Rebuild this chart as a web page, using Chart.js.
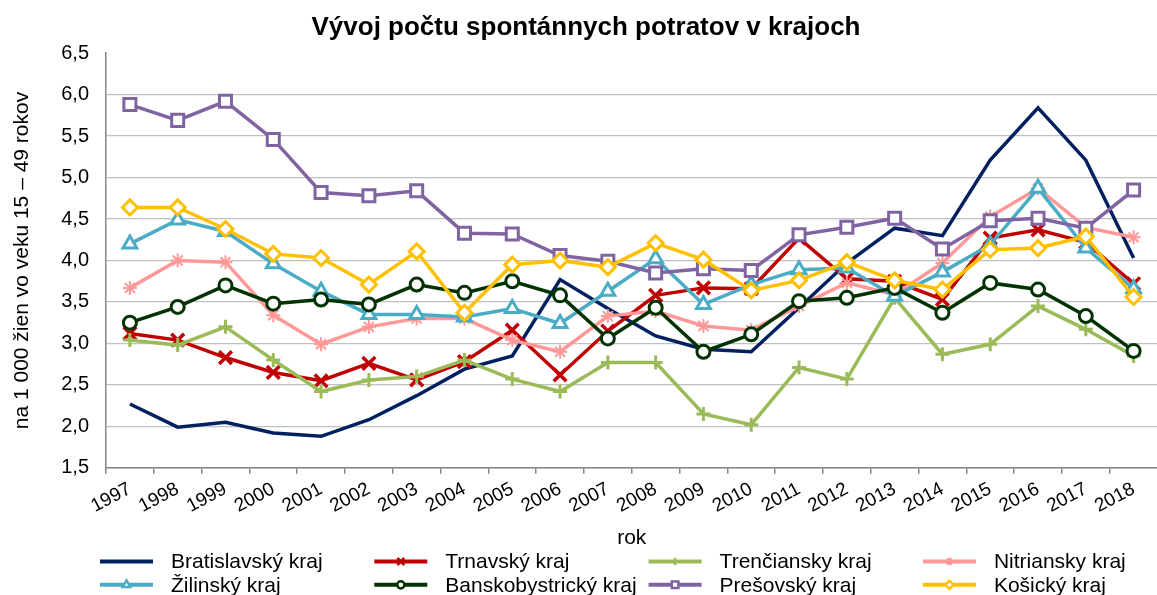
<!DOCTYPE html>
<html>
<head>
<meta charset="utf-8">
<script src="https://cdn.jsdelivr.net/npm/chart.js@4/dist/chart.umd.min.js"></script>
<style>
  html, body { margin: 0; padding: 0; background: #fff; overflow: hidden; }
  #wrap { width: 1170px; height: 595px; }
</style>
</head>
<body>
<div id="wrap"><canvas id="chart" width="1170" height="595"></canvas></div>
<script>
// data
const years = ['1997', '1998', '1999', '2000', '2001', '2002', '2003', '2004', '2005', '2006', '2007',
  '2008', '2009', '2010', '2011', '2012', '2013', '2014', '2015', '2016', '2017', '2018'];

const bratislava = [2.27, 1.99, 2.05, 1.92, 1.88, 2.08, 2.37, 2.69, 2.85, 3.77, 3.42, 3.09, 2.93, 2.90, 3.43, 3.97, 4.39, 4.30, 5.21, 5.84, 5.21, 4.03];
const trnava = [3.12, 3.04, 2.83, 2.65, 2.55, 2.76, 2.56, 2.78, 3.16, 2.62, 3.15, 3.58, 3.67, 3.66, 4.27, 3.78, 3.75, 3.53, 4.27, 4.37, 4.22, 3.72];
const trencin = [3.04, 2.98, 3.20, 2.80, 2.42, 2.56, 2.60, 2.80, 2.57, 2.42, 2.77, 2.77, 2.15, 2.02, 2.71, 2.57, 3.55, 2.87, 2.99, 3.45, 3.17, 2.85];
const nitra = [3.67, 4.00, 3.98, 3.34, 2.99, 3.20, 3.30, 3.30, 3.04, 2.90, 3.33, 3.39, 3.21, 3.16, 3.45, 3.73, 3.59, 3.97, 4.53, 4.87, 4.40, 4.28];
const zilina = [4.20, 4.49, 4.35, 3.96, 3.63, 3.35, 3.35, 3.32, 3.42, 3.24, 3.63, 4.02, 3.47, 3.71, 3.89, 3.91, 3.57, 3.86, 4.19, 4.87, 4.15, 3.66];
const banskaBystrica = [3.25, 3.44, 3.70, 3.48, 3.53, 3.47, 3.71, 3.61, 3.75, 3.58, 3.06, 3.43, 2.90, 3.11, 3.51, 3.55, 3.67, 3.37, 3.73, 3.65, 3.33, 2.91];
const presov = [5.88, 5.69, 5.92, 5.46, 4.82, 4.78, 4.84, 4.33, 4.32, 4.06, 3.99, 3.85, 3.90, 3.88, 4.31, 4.40, 4.51, 4.14, 4.48, 4.51, 4.39, 4.85];
const kosice = [4.64, 4.64, 4.38, 4.08, 4.03, 3.71, 4.11, 3.37, 3.95, 4.00, 3.92, 4.21, 4.01, 3.64, 3.76, 3.98, 3.76, 3.65, 4.13, 4.15, 4.29, 3.56];

const regionNames = ['Bratislavský kraj', 'Trnavský kraj', 'Trenčiansky kraj', 'Nitriansky kraj',
  'Žilinský kraj', 'Banskobystrický kraj', 'Prešovský kraj', 'Košický kraj'];
const regionValues = [bratislava, trnava, trencin, nitra, zilina, banskaBystrica, presov, kosice];
const colors = ['#002060', '#C00000', '#9BBB59', '#FF9999', '#4BACC6', '#003300', '#8064A2', '#FFC000'];
const markers = [false, 'crossRot', 'cross', 'star', 'triangle', 'circle', 'rect', 'rectRot'];
const markerSize = [0, 9, 7, 7, 8, 6.5, 8.5, 7.5];
const markerBorder = [0, 3.5, 3, 2, 3, 3, 3, 3];

const yTicks = [1.5, 2.0, 2.5, 3.0, 3.5, 4.0, 4.5, 5.0, 5.5, 6.0, 6.5];

Chart.defaults.font.family = '"Liberation Sans", Arial, sans-serif';
Chart.defaults.color = '#000';

const datasets = regionNames.map((name, i) => ({
  label: name,
  data: regionValues[i],
  borderColor: colors[i],
  backgroundColor: colors[i],
  borderWidth: 3.5,
  tension: 0,
  pointStyle: markers[i],
  pointRadius: markerSize[i],
  pointHoverRadius: markerSize[i],
  pointBorderWidth: markerBorder[i],
  pointBackgroundColor: '#fff',
  pointBorderColor: colors[i],
  order: regionNames.length - i // later series on top, like the original
}));

// legend laid out in a 4 column grid under the chart
const gridLegend = {
  id: 'gridLegend',
  afterDraw(chart) {
    const ctx = chart.ctx;
    ctx.save();
    chart.data.datasets.forEach((ds, i) => {
      const col = i % 4;
      const row = Math.floor(i / 4);
      const x = 100 + col * 274.3;
      const y = chart.height - 33.5 + row * 23.3;
      ctx.strokeStyle = ds.borderColor;
      ctx.lineWidth = 4;
      ctx.beginPath();
      ctx.moveTo(x, y);
      ctx.lineTo(x + 53, y);
      ctx.stroke();
      if (ds.pointStyle && Chart.helpers && Chart.helpers.drawPoint) {
        ctx.fillStyle = '#fff';
        ctx.lineWidth = 2.5;
        Chart.helpers.drawPoint(ctx, {
          pointStyle: ds.pointStyle,
          radius: ds.pointRadius * 0.55,
          borderWidth: 2.5,
          rotation: 0
        }, x + 26.5, y);
      }
      ctx.fillStyle = '#000';
      ctx.font = '21px "Liberation Sans", Arial, sans-serif';
      ctx.textBaseline = 'middle';
      ctx.textAlign = 'left';
      ctx.fillText(ds.label, x + 71, y + 1);
    });
    ctx.restore();
  }
};

new Chart(document.getElementById('chart'), {
  type: 'line',
  data: { labels: years, datasets: datasets },
  plugins: [gridLegend],
  options: {
    responsive: false,
    animation: false,
    layout: { padding: { left: 10, right: 8, top: 0, bottom: 44 } },
    plugins: {
      legend: { display: false },
      tooltip: { enabled: false },
      title: {
        display: true,
        text: 'Vývoj počtu spontánnych potratov v krajoch',
        font: { size: 26, weight: 'bold' },
        color: '#000',
        padding: { top: 12, bottom: 10 }
      }
    },
    scales: {
      x: {
        offset: true,
        grid: {
          offset: true,
          drawOnChartArea: false,
          drawTicks: true,
          tickLength: 6,
          color: '#868686',
          lineWidth: 1.5
        },
        border: { color: '#868686', width: 1.5 },
        ticks: {
          font: { size: 19 },
          minRotation: 28,
          maxRotation: 28,
          padding: 4,
          autoSkip: false
        },
        title: {
          display: true,
          text: 'rok',
          font: { size: 21 },
          padding: { top: 4, bottom: 0 }
        }
      },
      y: {
        min: yTicks[0],
        max: yTicks[yTicks.length - 1],
        afterBuildTicks: (scale) => { scale.ticks = yTicks.map(v => ({ value: v })); },
        grid: {
          drawTicks: false,
          color: (c) => (c.tick && c.tick.value === 6.5) ? 'rgba(0,0,0,0)' : '#C0C0C0',
          lineWidth: 1.3
        },
        border: { color: '#868686', width: 1.5 },
        ticks: {
          font: { size: 20 },
          padding: 17,
          callback: (v) => Number(v).toFixed(1).replace('.', ',')
        },
        title: {
          display: true,
          text: 'na 1 000 žien vo veku 15 – 49 rokov',
          font: { size: 21 },
          padding: { top: 0, bottom: 9 }
        }
      }
    }
  }
});
</script>
</body>
</html>
